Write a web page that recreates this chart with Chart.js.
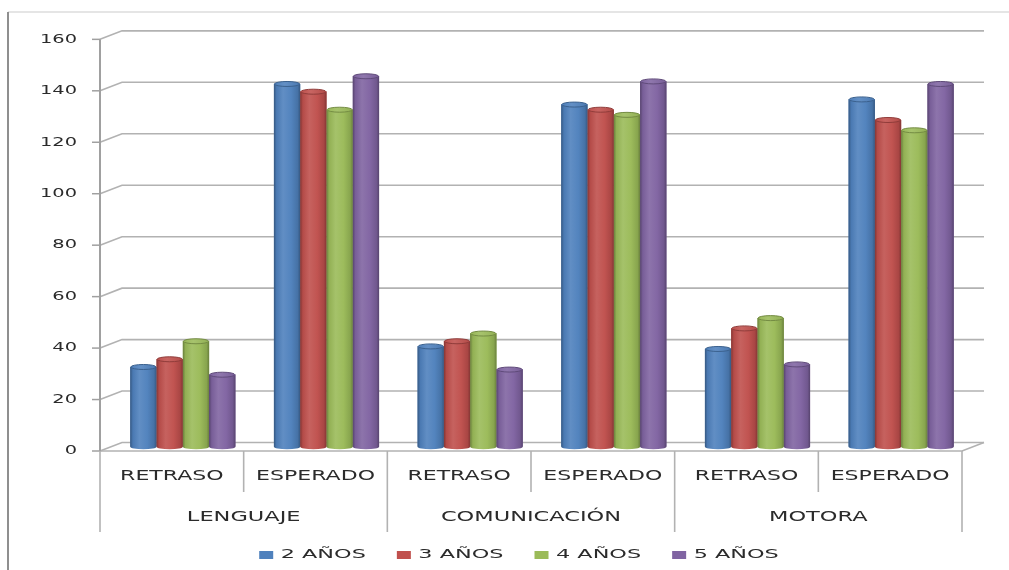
<!DOCTYPE html>
<html>
<head>
<meta charset="utf-8">
<script src="https://cdn.jsdelivr.net/npm/chart.js@4.4.1/dist/chart.umd.min.js"></script>
<style>
  html, body { margin: 0; padding: 0; background: #fff; overflow: hidden; }
  #wrap { width: 1009px; height: 570px; position: relative; }
</style>
</head>
<body>
<div id="wrap"><canvas id="c" width="1009" height="570"></canvas></div>
<script>
// Category hierarchy: each area is split into RETRASO / ESPERADO
const areas = ['LENGUAJE', 'COMUNICACIÓN', 'MOTORA'];
const outcomes = ['RETRASO', 'ESPERADO'];

// Age groups (series) and their colours
const seriesNames = ['2 AÑOS', '3 AÑOS', '4 AÑOS', '5 AÑOS'];
const seriesColors = ['#4F81BD', '#C0504D', '#9BBB59', '#8064A2'];

// Counts per category, in order:
// LENGUAJE RETRASO, LENGUAJE ESPERADO, COMUNICACIÓN RETRASO,
// COMUNICACIÓN ESPERADO, MOTORA RETRASO, MOTORA ESPERADO
const anos2 = [31, 141, 39, 133, 38, 135];
const anos3 = [34, 138, 41, 131, 46, 127];
const anos4 = [41, 131, 44, 129, 50, 123];
const anos5 = [28, 144, 30, 142, 32, 141];

// Value axis ticks
const yTicks = [0, 20, 40, 60, 80, 100, 120, 140, 160];

const seriesValues = [anos2, anos3, anos4, anos5];
const categoryLabels = [];
areas.forEach(a => outcomes.forEach(o => categoryLabels.push(o)));

// Depth of the pseudo-3D box (the bars stand on its middle plane)
const DX = 22, DY = 8.5;
const FONT = '"DejaVu Sans", sans-serif';
const TEXT = '#2b2b2b';
const LINE = '#b2b2b2';

function stretchText(ctx, text, x, y, align, sx, size) {
  ctx.save();
  ctx.font = size + 'px ' + FONT;
  ctx.fillStyle = TEXT;
  ctx.textAlign = align;
  ctx.textBaseline = 'middle';
  ctx.translate(x, y);
  ctx.scale(sx, 1);
  ctx.fillText(text, 0, 0);
  ctx.restore();
}

function shade(hex, f) {
  const n = parseInt(hex.slice(1), 16);
  let r = (n >> 16) & 255, g = (n >> 8) & 255, b = n & 255;
  const t = f < 0 ? 0 : 255, p = Math.abs(f);
  r = Math.round(r + (t - r) * p);
  g = Math.round(g + (t - g) * p);
  b = Math.round(b + (t - b) * p);
  return 'rgb(' + r + ',' + g + ',' + b + ')';
}

function line(ctx, pts, color, w) {
  ctx.save();
  ctx.strokeStyle = color;
  ctx.lineWidth = w;
  ctx.beginPath();
  ctx.moveTo(pts[0][0], pts[0][1]);
  for (let i = 1; i < pts.length; i++) ctx.lineTo(pts[i][0], pts[i][1]);
  ctx.stroke();
  ctx.restore();
}

const frame3d = {
  id: 'frame3d',
  beforeDraw(chart) {
    const ctx = chart.ctx;
    ctx.save();
    ctx.fillStyle = '#fff';
    ctx.fillRect(0, 0, chart.width, chart.height);
    ctx.restore();
    // outer frame edges
    line(ctx, [[8, 12], [chart.width, 12]], '#dcdcdc', 1.5);
    line(ctx, [[8, 12], [8, chart.height]], '#8f8f8f', 2);
  },
  beforeDatasetsDraw(chart) {
    const ctx = chart.ctx;
    const ys = chart.scales.y, xs = chart.scales.x;
    const fl = xs.left - DX / 2, fr = xs.right - DX / 2;
    // back wall gridlines with their side-wall segments
    yTicks.forEach(v => {
      const yf = ys.getPixelForValue(v) + DY / 2;
      line(ctx, [[fl, yf], [fl + DX, yf - DY], [fr + DX, yf - DY]], LINE, 1.6);
      line(ctx, [[fl - 8, yf], [fl, yf]], '#a0a0a0', 1.5);
      stretchText(ctx, String(v), fl - 23, yf, 'right', 1.55, 12.5);
    });
    // floor front edge and right side
    const y0 = ys.getPixelForValue(0) + DY / 2;
    line(ctx, [[fl, y0], [fr, y0], [fr + DX, y0 - DY]], LINE, 1.6);
    // value axis
    line(ctx, [[fl, ys.getPixelForValue(yTicks[yTicks.length - 1]) + DY / 2], [fl, y0]], '#a0a0a0', 2);
  },
  afterDatasetsDraw(chart) {
    const ctx = chart.ctx;
    const bars = [];
    chart.data.datasets.forEach((ds, di) => {
      const meta = chart.getDatasetMeta(di);
      if (meta.hidden) return;
      meta.data.forEach(el => bars.push({ el, color: ds.backgroundColor }));
    });
    bars.sort((a, b) => a.el.x - b.el.x);
    bars.forEach(({ el, color }) => {
      const { x, y, base, width } = el.getProps(['x', 'y', 'base', 'width'], true);
      const l = x - width / 2, r = x + width / 2, ry = 2.5;
      const g = ctx.createLinearGradient(l, 0, r, 0);
      g.addColorStop(0, shade(color, -0.32));
      g.addColorStop(0.1, shade(color, -0.06));
      g.addColorStop(0.35, shade(color, 0.1));
      g.addColorStop(0.65, shade(color, 0.02));
      g.addColorStop(0.9, shade(color, -0.12));
      g.addColorStop(1, shade(color, -0.32));
      ctx.save();
      ctx.fillStyle = g;
      ctx.beginPath();
      ctx.moveTo(l, y);
      ctx.lineTo(l, base);
      ctx.ellipse(x, base, width / 2, ry, 0, Math.PI, 0, true);
      ctx.lineTo(r, y);
      ctx.closePath();
      ctx.fill();
      // top cap
      const tg = ctx.createLinearGradient(l, 0, r, 0);
      tg.addColorStop(0, shade(color, -0.02));
      tg.addColorStop(0.4, shade(color, 0.12));
      tg.addColorStop(1, shade(color, -0.06));
      ctx.fillStyle = tg;
      ctx.strokeStyle = shade(color, -0.25);
      ctx.lineWidth = 1;
      ctx.beginPath();
      ctx.ellipse(x, y, width / 2 - 0.5, ry, 0, 0, Math.PI * 2);
      ctx.fill();
      ctx.stroke();
      ctx.restore();
    });
  },
  afterDraw(chart) {
    const ctx = chart.ctx;
    const xs = chart.scales.x, ys = chart.scales.y;
    const y0 = ys.getPixelForValue(0) + DY / 2;
    const n = categoryLabels.length;
    const cw = (xs.right - xs.left) / n;
    const fl = xs.left - DX / 2;
    // dividers between categories / areas
    for (let i = 0; i <= n; i++) {
      const bx = fl + i * cw;
      const bottom = i % outcomes.length === 0 ? y0 + 81 : y0 + 41;
      line(ctx, [[bx, y0], [bx, bottom]], LINE, 1.6);
    }
    // inner labels
    categoryLabels.forEach((lab, i) => {
      stretchText(ctx, lab, xs.getPixelForValue(i) - DX / 2, y0 + 25, 'center', 1.52, 14.5);
    });
    // area labels
    areas.forEach((a, k) => {
      const cx = fl + (k + 0.5) * outcomes.length * cw;
      stretchText(ctx, a, cx, y0 + 66, 'center', 1.55, 14.5);
    });
    // legend
    const sx = 1.72, size = 13, sq = 14, gap = 7.5, spacing = 31;
    ctx.save();
    ctx.font = size + 'px ' + FONT;
    const items = chart.data.datasets.map(ds => ({
      label: ds.label, color: ds.backgroundColor,
      w: sq + gap + ctx.measureText(ds.label).width * sx
    }));
    ctx.restore();
    const total = items.reduce((s, it) => s + it.w, 0) + spacing * (items.length - 1);
    let lx = 519 - total / 2;
    const ly = 555;
    items.forEach(it => {
      ctx.save();
      ctx.fillStyle = it.color;
      ctx.fillRect(lx, ly - 4, sq, 8);
      ctx.restore();
      stretchText(ctx, it.label, lx + sq + gap, ly, 'left', sx, size);
      lx += it.w + spacing;
    });
  }
};

new Chart(document.getElementById('c'), {
  type: 'bar',
  data: {
    labels: categoryLabels,
    datasets: seriesNames.map((name, i) => ({
      label: name,
      data: seriesValues[i],
      backgroundColor: seriesColors[i],
      borderWidth: 0,
      barPercentage: 1.0,
      categoryPercentage: 0.732
    }))
  },
  options: {
    responsive: false,
    devicePixelRatio: 1,
    animation: false,
    layout: { padding: { left: 111, right: 36, top: 35.1, bottom: 123.25 } },
    scales: {
      x: { display: false },
      y: { display: false, min: 0, max: 160, ticks: { stepSize: 20 } }
    },
    plugins: { legend: { display: false }, tooltip: { enabled: false } }
  },
  plugins: [frame3d]
});
</script>
</body>
</html>
